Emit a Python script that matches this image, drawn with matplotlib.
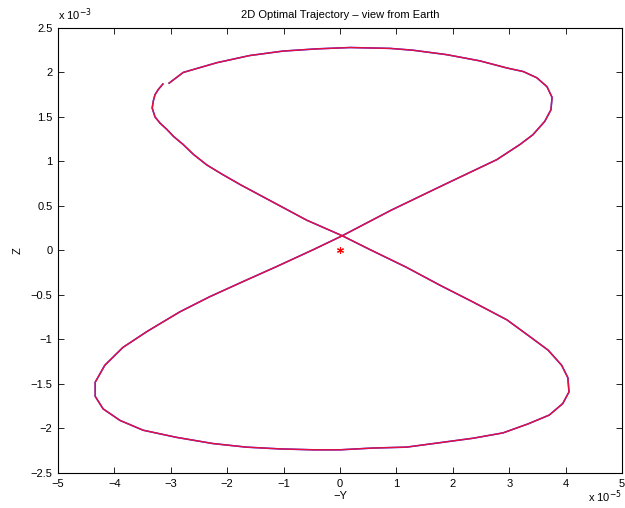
import matplotlib
matplotlib.use("Agg")
import matplotlib.pyplot as plt
from matplotlib.ticker import FixedLocator

plt.rcParams['font.family'] = ['Liberation Sans', 'DejaVu Sans']

# trajectory, -Y in units of 1e-5, Z in units of 1e-3
neg_y = [-3.03, -2.78, -2.18, -1.60, -1.01, -0.41, 0.18, 0.89, 1.29, 1.89, 2.48, 2.96, 3.25,
         3.49, 3.67, 3.76, 3.74, 3.63, 3.42, 3.19, 2.78, 1.85, 0.90, 0.04,
         -0.47, -1.12, -1.72, -2.31, -2.84, -3.42, -3.85, -4.17, -4.34, -4.34,
         -4.20, -3.90, -3.49, -2.90, -2.25, -1.66, -1.06, -0.47, 0.00, 0.59, 1.18, 1.77,
         2.36, 2.89, 3.33, 3.71, 3.95, 4.06, 4.04, 3.93, 3.69, 3.37, 2.96, 2.36, 1.77,
         1.18, 0.53, 0.04, -0.59, -1.18, -1.77, -2.10, -2.36, -2.60, -2.78, -2.95, -3.07,
         -3.19, -3.28, -3.33, -3.31, -3.28, -3.22, -3.14]
z = [1.88, 2.00, 2.11, 2.19, 2.24, 2.265, 2.28, 2.27, 2.25, 2.20, 2.13, 2.05, 2.01,
     1.94, 1.84, 1.72, 1.58, 1.45, 1.30, 1.19, 1.02, 0.74, 0.45, 0.165,
     0.01, -0.18, -0.35, -0.52, -0.69, -0.91, -1.09, -1.29, -1.48, -1.64,
     -1.78, -1.91, -2.02, -2.10, -2.17, -2.21, -2.23, -2.24, -2.24, -2.22, -2.21, -2.16,
     -2.11, -2.05, -1.95, -1.85, -1.72, -1.59, -1.43, -1.29, -1.12, -0.97, -0.78, -0.58, -0.39,
     -0.19, 0.01, 0.165, 0.34, 0.54, 0.74, 0.86, 0.96, 1.08, 1.19, 1.28, 1.36,
     1.43, 1.50, 1.60, 1.68, 1.75, 1.81, 1.87]
earth_y = [0.0]
earth_z = [0.0]

x_ticks = [-5, -4, -3, -2, -1, 0, 1, 2, 3, 4, 5]
y_ticks = [-2.5, -2, -1.5, -1, -0.5, 0, 0.5, 1, 1.5, 2, 2.5]
x_labels = ['\u22125', '\u22124', '\u22123', '\u22122', '\u22121', '0', '1', '2', '3', '4', '5']
y_labels = ['\u22122.5', '\u22122', '\u22121.5', '\u22121', '\u22120.5', '0', '0.5', '1', '1.5', '2', '2.5']

fig = plt.figure(figsize=(6.25, 5.08), dpi=100)
ax = fig.add_axes([0.0928, 0.069, 0.9024, 0.876])

ax.plot(neg_y, z, color='#3030ff', lw=1.15)
ax.plot(neg_y, z, color='#e8103a', lw=1.0)
ax.plot(earth_y, earth_z, linestyle='none', marker=(6, 2, 0), color='red',
        markersize=5, markeredgewidth=0.8)

ax.set_xlim(-5, 5)
ax.set_ylim(-2.5, 2.5)
ax.xaxis.set_major_locator(FixedLocator(x_ticks))
ax.yaxis.set_major_locator(FixedLocator(y_ticks))
ax.set_xticklabels(x_labels)
ax.set_yticklabels(y_labels)
ax.tick_params(direction='in', top=True, right=True, labelsize=8, length=4, width=0.6, pad=4)
for s in ax.spines.values():
    s.set_linewidth(0.8)

ax.set_title('2D Optimal Trajectory \u2013 view from Earth', fontsize=8, pad=7)
ax.set_xlabel('\u2212Y', fontsize=8, labelpad=2)
ax.set_ylabel('Z', fontsize=8, labelpad=6)

fig.text(0.0928, 0.955, r'x 10$^{-3}$', fontsize=8, ha='left', va='bottom')
fig.text(0.995, 0.005, r'x 10$^{-5}$', fontsize=8, ha='right', va='bottom')

fig.savefig('out.png', dpi=100)
